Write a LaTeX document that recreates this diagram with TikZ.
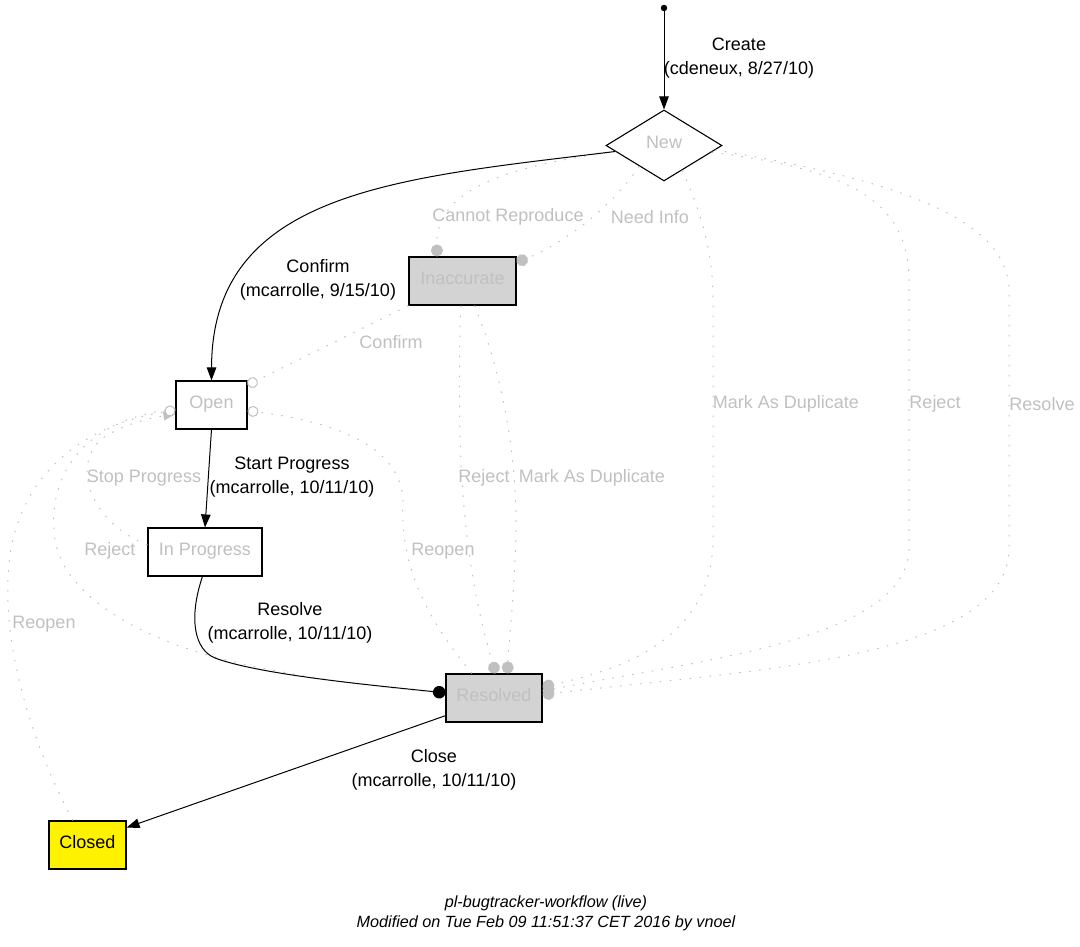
\documentclass[tikz,border=0pt]{standalone}
\usepackage{fontspec}
\setmainfont{Liberation Sans}
\usetikzlibrary{shapes.geometric,arrows.meta}
\definecolor{gtxt}{RGB}{192,192,192}
\definecolor{gfill}{RGB}{211,211,211}
\begin{document}
\begin{tikzpicture}[x=1pt,y=-1pt,
  every node/.style={font=\fontsize{18}{24}\selectfont},
  state/.style={draw=black, line width=1.1pt, minimum height=48pt, inner sep=0pt, text=gtxt, text height=13pt, text depth=6pt, font=\fontsize{18}{22}\selectfont},
  lbl/.style={align=center, inner sep=0pt, text=black},
  glbl/.style={inner sep=0pt, text=gtxt},
  blk/.style={draw=black, line width=1pt, -{Triangle[length=13pt,width=9.5pt]}},
  blkdot/.style={draw=black, line width=1pt, -{Circle[length=12.5pt]}},
  gline/.style={draw=gtxt, line width=1pt, dash pattern=on 1.5pt off 8.5pt},
  gdot/.style={gline, -{Circle[length=12pt]}},
  godot/.style={gline, -{Circle[open,length=11pt,fill=white]}},
  gtri/.style={gline, -{Triangle[length=12pt,width=9pt]}}
]
\useasboundingbox (0,0) rectangle (1080,947);

% states
\node[draw=black, fill=black, circle, inner sep=0pt, minimum size=6pt] (start) at (664,8) {};
\node[state, diamond, minimum width=116pt, minimum height=71pt, aspect=1.63] (new) at (664,145.5) {New};
\node[state, fill=gfill, minimum width=107pt] (inacc) at (462.5,281) {Inaccurate};
\node[state, minimum width=71pt] (open) at (211.5,405) {Open};
\node[state, minimum width=114pt] (inprog) at (205,552) {In Progress};
\node[state, fill=gfill, minimum width=96pt] (resolved) at (494,698) {Resolved};
\node[state, fill=yellow, text=black, minimum width=77pt] (closed) at (87.5,845) {Closed};

% grey dotted transitions
\draw[gdot] (new.187) .. controls (520,165) and (435,185) .. (inacc.136);
\draw[gdot] (new.220) .. controls (610,210) and (560,245) .. (inacc.19);
\draw[godot] (inacc.south west) -- (open.29);
\draw[godot] (resolved.132) .. controls (420,610) and (400,560) .. (403,500) .. controls (400,440) and (320,420) .. (open.-9);
\draw[gtri] (inprog.173) .. controls (95,525) and (70,470) .. (100,440) .. controls (120,425) and (150,418) .. (open.194);
\draw[gline] (open.186) .. controls (90,418) and (45,470) .. (55,540) .. controls (65,600) and (150,640) .. (215,657) .. controls (280,675) and (380,688) .. (resolved.174);
\draw[godot] (closed.121) .. controls (30,740) and (5,650) .. (8,580) .. controls (10,480) and (80,425) .. (open.188);
\draw[gdot] (inacc.-94) .. controls (456,450) and (462,560) .. (resolved.86);
\draw[gdot] (inacc.-64) .. controls (505,380) and (520,470) .. (515,560) .. controls (512,620) and (508,650) .. (resolved.61);
\draw[gdot] (new.-54) .. controls (705,220) and (713,260) .. (713,300) -- (713,540) .. controls (712,640) and (620,670) .. (resolved.13);
\draw[gdot] (new.-8) .. controls (850,170) and (908,200) .. (909,280) -- (909,550) .. controls (905,640) and (700,660) .. (resolved.8);
\draw[gdot] (new.-5) .. controls (900,180) and (1008,220) .. (1009,290) -- (1009,550) .. controls (1005,660) and (750,670) .. (resolved.4);

% black transitions
\draw[blk] (start) -- (new.north);
\draw[blk] (new.187) .. controls (400,178) and (212,190) .. (open.north);
\draw[blk] (open.south) -- (inprog.north);
\draw[blkdot] (inprog.-96) .. controls (188,620) and (195,650) .. (215,658) .. controls (260,675) and (380,686) .. (resolved.174);
\draw[blk] (resolved.200) -- (closed.24);

% black labels
\node[lbl] (lcreate) at (739,58) {Create\\(cdeneux, 8/27/10)};
\node[lbl] (lconfirm) at (318,280) {Confirm\\(mcarrolle, 9/15/10)};
\node[lbl] (lstart) at (292,477) {Start Progress\\(mcarrolle, 10/11/10)};
\node[lbl] (lresolve) at (290,623) {Resolve\\(mcarrolle, 10/11/10)};
\node[lbl] (lclose) at (434,770) {Close\\(mcarrolle, 10/11/10)};

% grey labels
\node[glbl] (g1) at (508,217) {Cannot Reproduce};
\node[glbl] (g2) at (650,217) {Need Info};
\node[glbl] (g3) at (391,342) {Confirm};
\node[glbl] (g4) at (786,404) {Mark As Duplicate};
\node[glbl] (g5) at (935,404) {Reject};
\node[glbl] (g6) at (1042,404) {Resolve};
\node[glbl] (g7) at (484,478) {Reject};
\node[glbl] (g8) at (592,478) {Mark As Duplicate};
\node[glbl] (g9) at (144,478) {Stop Progress};
\node[glbl] (g10) at (110,551) {Reject};
\node[glbl] (g11) at (443,551) {Reopen};
\node[glbl] (g12) at (44,624) {Reopen};

% footer
\node[inner sep=0pt, align=center, font=\fontsize{16.2}{20}\itshape] (footer) at (546,913)
  {pl-bugtracker-workflow (live)\\Modified on Tue Feb 09 11:51:37 CET 2016 by vnoel};
\end{tikzpicture}
\end{document}
